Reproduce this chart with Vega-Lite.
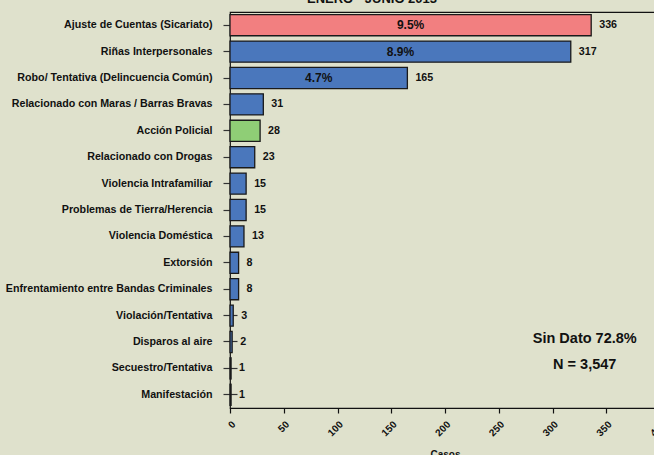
{
  "$schema": "https://vega.github.io/schema/vega-lite/v6.json",
  "autosize": {"type": "none"},
  "padding": {"left": 230, "top": 12, "right": 0, "bottom": 47},
  "width": 430,
  "height": 396,
  "background": "#dfe1cc",
  "config": {
    "font": "Liberation Sans",
    "view": {"stroke": "#111111", "strokeWidth": 1.2}
  },
  "title": {
    "text": "ENERO - JUNIO 2013",
    "fontSize": 13,
    "fontWeight": "bold",
    "color": "#111111",
    "anchor": "middle",
    "frame": "group",
    "baseline": "alphabetic",
    "offset": 3,
    "dx": -73,
    "dy": 7
  },
  "data": {
    "values": [
      {"motivo": "Ajuste de Cuentas (Sicariato)", "casos": 336, "pct": "9.5%"},
      {"motivo": "Riñas Interpersonales", "casos": 317, "pct": "8.9%"},
      {"motivo": "Robo/ Tentativa (Delincuencia Común)", "casos": 165, "pct": "4.7%"},
      {"motivo": "Relacionado con Maras / Barras Bravas", "casos": 31, "pct": ""},
      {"motivo": "Acción Policial", "casos": 28, "pct": ""},
      {"motivo": "Relacionado con Drogas", "casos": 23, "pct": ""},
      {"motivo": "Violencia Intrafamiliar", "casos": 15, "pct": ""},
      {"motivo": "Problemas de Tierra/Herencia", "casos": 15, "pct": ""},
      {"motivo": "Violencia Doméstica", "casos": 13, "pct": ""},
      {"motivo": "Extorsión", "casos": 8, "pct": ""},
      {"motivo": "Enfrentamiento entre Bandas Criminales", "casos": 8, "pct": ""},
      {"motivo": "Violación/Tentativa", "casos": 3, "pct": ""},
      {"motivo": "Disparos al aire", "casos": 2, "pct": ""},
      {"motivo": "Secuestro/Tentativa", "casos": 1, "pct": ""},
      {"motivo": "Manifestación", "casos": 1, "pct": ""}
    ]
  },
  "encoding": {
    "y": {
      "field": "motivo",
      "type": "nominal",
      "sort": null,
      "scale": {"paddingInner": 0.2, "paddingOuter": 0.1},
      "axis": {
        "title": null,
        "orient": "left",
        "offset": -7,
        "domain": false,
        "tickSize": 14,
        "tickColor": "#333333",
        "tickWidth": 1.2,
        "labelPadding": 11,
        "labelFontSize": 10.7,
        "labelFontWeight": "bold",
        "labelColor": "#111111",
        "labelLimit": 300
      }
    }
  },
  "layer": [
    {
      "mark": {"type": "bar", "stroke": "#1a1a1a", "strokeWidth": 1.3},
      "encoding": {
        "x": {
          "field": "casos",
          "type": "quantitative",
          "scale": {"domain": [0, 400], "nice": false},
          "axis": {
            "title": "Casos",
            "values": [0, 50, 100, 150, 200, 250, 300, 350, 400],
            "grid": false,
            "domain": false,
            "tickSize": 5,
            "tickColor": "#111111",
            "tickWidth": 1.2,
            "labelAngle": -45,
            "labelFontSize": 10,
            "labelFontWeight": "bold",
            "labelColor": "#111111",
            "labelPadding": 6,
            "titleFontSize": 10,
            "titleFontWeight": "bold",
            "titleColor": "#111111",
            "titleBaseline": "alphabetic",
            "titleY": 49
          }
        },
        "color": {
          "condition": [
            {"test": "datum.motivo === 'Ajuste de Cuentas (Sicariato)'", "value": "#f27f80"},
            {"test": "datum.motivo === 'Acción Policial'", "value": "#8fce76"}
          ],
          "value": "#4a77bc"
        }
      }
    },
    {
      "mark": {"type": "text", "align": "left", "dx": 8, "fontSize": 10.7, "fontWeight": "bold", "color": "#111111"},
      "encoding": {
        "x": {"field": "casos", "type": "quantitative"},
        "text": {"field": "casos", "type": "quantitative"}
      }
    },
    {
      "transform": [
        {"filter": "datum.pct !== ''"},
        {"calculate": "datum.casos / 2", "as": "mitad"}
      ],
      "mark": {"type": "text", "align": "center", "fontSize": 12, "fontWeight": "bold", "color": "#111111"},
      "encoding": {
        "x": {"field": "mitad", "type": "quantitative"},
        "text": {"field": "pct", "type": "nominal"}
      }
    },
    {
      "data": {"values": [{"nota": "Sin Dato 72.8%", "fila": "Disparos al aire"}, {"nota": "N = 3,547", "fila": "Secuestro/Tentativa"}]},
      "mark": {"type": "text", "align": "center", "fontSize": 14.5, "fontWeight": "bold", "color": "#111111", "dy": -3},
      "encoding": {
        "x": {"datum": 330, "type": "quantitative"},
        "y": {"field": "fila", "type": "nominal", "sort": null},
        "text": {"field": "nota", "type": "nominal"}
      }
    }
  ]
}
